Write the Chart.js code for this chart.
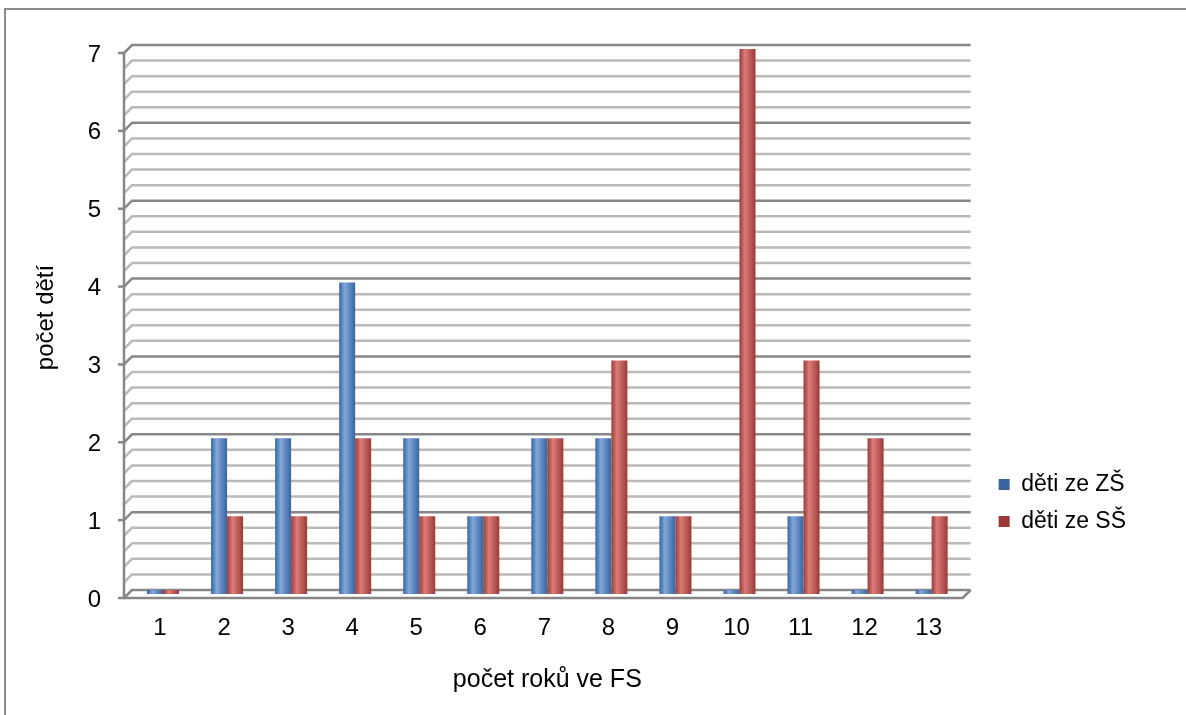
<!DOCTYPE html>
<html>
<head>
<meta charset="utf-8">
<script src="https://cdn.jsdelivr.net/npm/chart.js@4.4.0/dist/chart.umd.min.js"></script>
<style>
  html, body { margin: 0; padding: 0; background: #fff; overflow: hidden; width: 1186px; height: 715px; }
  #frame { position: absolute; left: 4px; top: 8px; width: 1400px; height: 900px; border: 2px solid #8c8c8c; }
  #graf { position: absolute; left: 0; top: 0; }
</style>
</head>
<body>
<div id="frame"></div>
<canvas id="graf" width="1186" height="715"></canvas>
<script>
'use strict';

/*--- data ---*/
var rokyVeFS = ['1', '2', '3', '4', '5', '6', '7', '8', '9', '10', '11', '12', '13'];
var detiZS = [0, 2, 2, 4, 2, 1, 2, 2, 1, 0, 1, 0, 0];
var detiSS = [0, 1, 1, 2, 1, 1, 2, 3, 1, 7, 3, 2, 1];
var osaYMax = 7;
var krokMrizky = 0.2;

var pismo = "'Liberation Sans', Arial, sans-serif";
var DX = 8, DY = 8; // 3d depth of the wall

/*--- cylinder shading for bars ---*/
function valec(tmave, svetle, plna) {
  return function (c) {
    if (c.type !== 'data') return plna;
    var x = c.chart.scales.x;
    var w = x.width / rokyVeFS.length * 0.5 / 2;
    var cx = x.getPixelForValue(c.dataIndex) + (c.datasetIndex === 0 ? -w / 2 : w / 2);
    if (!isFinite(cx)) return plna;
    var g = c.chart.ctx.createLinearGradient(cx - w / 2, 0, cx + w / 2, 0);
    g.addColorStop(0, tmave);
    g.addColorStop(0.35, svetle);
    g.addColorStop(1, tmave);
    return g;
  };
}

/*--- back wall, side wall and floor ---*/
var stena = {
  id: 'stena',
  beforeDatasetsDraw: function (chart) {
    var ctx = chart.ctx, a = chart.chartArea, y = chart.scales.y;
    var bl = a.left + 1, br = a.right + 7;
    var fl = bl - DX, fr = br - DX;
    var y0 = y.getPixelForValue(0);
    ctx.save();
    ctx.lineWidth = 2.5;
    var n = Math.round(osaYMax / krokMrizky);
    for (var i = 0; i <= n; i++) {
      var py = y.getPixelForValue(i * krokMrizky);
      ctx.strokeStyle = i % 5 === 0 ? '#878787' : '#bababa';
      ctx.beginPath();
      ctx.moveTo(fl, py + DY);
      ctx.lineTo(bl, py);
      ctx.lineTo(br, py);
      ctx.stroke();
      if (i % 5 === 0) {
        ctx.beginPath();
        ctx.moveTo(fl - 6, py + DY);
        ctx.lineTo(fl, py + DY);
        ctx.stroke();
      }
    }
    ctx.strokeStyle = '#878787';
    ctx.beginPath();
    ctx.moveTo(fl, y.getPixelForValue(osaYMax) + DY);
    ctx.lineTo(fl, y0 + DY);
    ctx.lineTo(fr, y0 + DY);
    ctx.lineTo(br, y0);
    ctx.stroke();
    ctx.restore();
    // bars stand in the middle of the floor depth
    ctx.save();
    ctx.translate(0, DY / 2);
  },
  afterDatasetsDraw: function (chart) {
    chart.ctx.restore();
  }
};

new Chart(document.getElementById('graf'), {
  type: 'bar',
  data: {
    labels: rokyVeFS,
    datasets: [{
      label: 'děti ze ZŠ',
      data: detiZS,
      backgroundColor: valec('#3a649e', '#80a8de', '#4f81bd'),
      clip: false
    }, {
      label: 'děti ze SŠ',
      data: detiSS,
      backgroundColor: valec('#9c3936', '#dc7d7a', '#c0504d'),
      clip: false
    }]
  },
  options: {
    responsive: false,
    animation: false,
    categoryPercentage: 0.5,
    barPercentage: 1,
    minBarLength: 4,
    layout: { padding: { top: 45, right: 50, bottom: 0, left: 0 } },
    plugins: {
      tooltip: { enabled: false },
      legend: {
        position: 'right',
        align: 'start',
        title: { display: true, text: ' ', font: { size: 10, lineHeight: 1 }, padding: { top: 404, bottom: 0 } },
        labels: {
          boxWidth: 11,
          boxHeight: 11,
          padding: 14,
          color: '#000',
          font: { family: pismo, size: 23 }
        }
      }
    },
    scales: {
      x: {
        grid: { display: false },
        border: { display: false },
        ticks: { color: '#000', font: { family: pismo, size: 24 }, padding: 16, labelOffset: -3, maxRotation: 0 },
        title: { display: true, text: 'počet roků ve FS', color: '#000', font: { family: pismo, size: 25, lineHeight: 1 }, padding: { top: 0, bottom: 22 } },
        afterFit: function (s) { s.height = 125; }
      },
      y: {
        min: 0,
        max: osaYMax,
        grid: { display: false },
        border: { display: false },
        ticks: { stepSize: 1, color: '#000', font: { family: pismo, size: 24 }, padding: 22, labelOffset: 10 },
        title: { display: true, text: 'počet dětí', color: '#000', font: { family: pismo, size: 24, lineHeight: 1 }, padding: { top: 34, bottom: 0 } },
        afterFit: function (s) { s.width = 131; }
      },
      mezera: {
        type: 'linear',
        position: 'right',
        grid: { display: false, drawTicks: false },
        border: { display: false },
        ticks: { display: false },
        afterFit: function (s) { s.width = 21; }
      }
    }
  },
  plugins: [stena]
});
</script>
</body>
</html>
